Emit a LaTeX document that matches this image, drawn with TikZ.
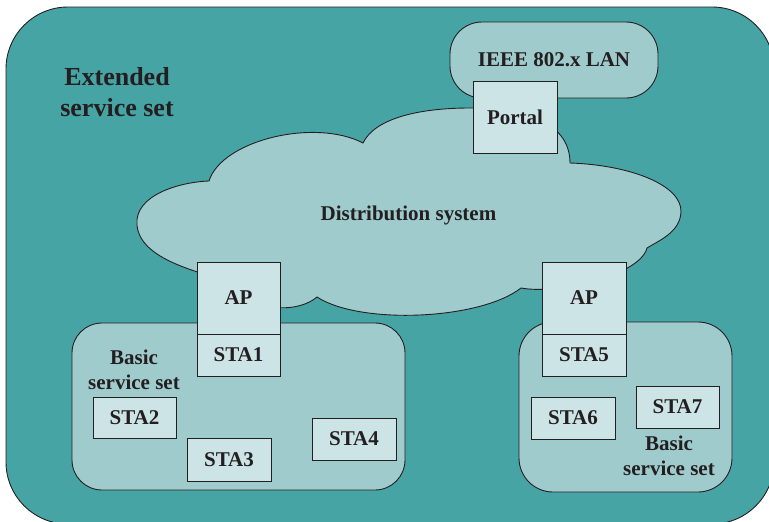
\documentclass[tikz,border=0pt]{standalone}
\usepackage{fontspec}
\setmainfont{Liberation Serif}
\usepackage{xcolor}
\usepackage{tikz}
\usetikzlibrary{positioning}

\definecolor{esscol}{HTML}{47A4A5}
\definecolor{dscol}{HTML}{A0CBCD}
\definecolor{stacol}{HTML}{CCE4E6}
\definecolor{inkcol}{HTML}{231F20}

\begin{document}
\begin{tikzpicture}[x=1pt, y=-1pt, line width=0.9pt,
  box/.style={draw=inkcol, fill=stacol, minimum width=84pt, minimum height=42pt, inner sep=0pt, outer sep=0pt, align=center, font=\fontsize{21}{25}\selectfont\bfseries, text=inkcol},
  area/.style={draw=inkcol, fill=dscol, inner sep=0pt, outer sep=0pt, align=center, font=\fontsize{21}{25}\selectfont\bfseries, text=inkcol},
  txt/.style={inner sep=0pt, align=center, font=\fontsize{21}{25}\selectfont\bfseries, text=inkcol},
]
\useasboundingbox (0,0) rectangle (769,522);
\clip (0,0) rectangle (769,522);

% extended service set
\draw[draw=inkcol, fill=esscol, rounded corners=62pt] (6,7) rectangle (774,524);
\node[txt, font=\fontsize{26}{31}\selectfont\bfseries] (esslbl) at (117,92.5) {Extended\\service set};

% wired LAN behind the portal
\node[area, rounded corners=32pt, minimum width=208pt, minimum height=76pt] (lan) at (554,60) {IEEE 802.x LAN};

% distribution system cloud
\draw[area] (209,181) .. controls (222,140) and (315,118) .. (363,143)
  .. controls (375,118) and (420,108) .. (470,108)
  .. controls (530,108) and (570,125) .. (570,163)
  .. controls (630,165) and (682,185) .. (681,212)
  .. controls (680,232) and (660,240) .. (647,248)
  .. controls (640,275) and (560,295) .. (521,288)
  .. controls (480,320) and (360,325) .. (317,297)
  .. controls (300,312) and (255,315) .. (230,282)
  .. controls (200,272) and (140,260) .. (137,225)
  .. controls (134,195) and (180,182) .. (209,181) -- cycle;
\node[txt] (dslbl) at (408.5,215) {Distribution system};

% basic service sets
\node[area, rounded corners=30pt, minimum width=333pt, minimum height=167pt] (bss1) at (238.5,406.5) {};
\node[area, rounded corners=34pt, minimum width=213pt, minimum height=170pt] (bss2) at (625.5,407) {};
\node[txt] (bss1lbl) at (134,370) {Basic\\service set};
\node[txt] (bss2lbl) at (669,456) {Basic\\service set};

\node[box, minimum height=72pt] (portal) at (515,117) {Portal};

\node[box, minimum width=83pt, minimum height=72pt] (ap1) at (238.5,298) {AP};
\node[box, minimum width=83pt, below=0pt of ap1] (sta1) {STA1};
\node[box, minimum width=83pt, minimum height=41pt] (sta2) at (134.5,417.5) {STA2};
\node[box, minimum height=43pt] (sta3) at (229,459.5) {STA3};
\node[box] (sta4) at (354,439) {STA4};

\node[box, minimum height=72pt] (ap2) at (584,298) {AP};
\node[box, below=0pt of ap2] (sta5) {STA5};
\node[box] (sta6) at (573,418) {STA6};
\node[box, minimum width=83pt] (sta7) at (677.5,407) {STA7};

\end{tikzpicture}
\end{document}
